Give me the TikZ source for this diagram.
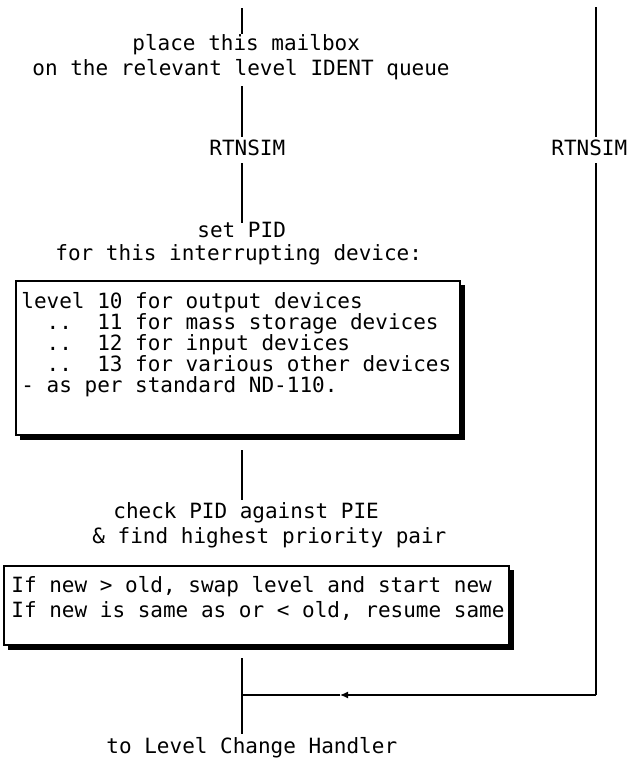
\documentclass[tikz,border=0pt]{standalone}
\usepackage{fontspec}
\setmonofont{DejaVu Sans Mono}
\usetikzlibrary{arrows.meta}
\begin{document}
\begin{tikzpicture}[x=0.5pt,y=-0.5pt,
  lbl/.style={anchor=west,inner sep=0pt,
    font=\ttfamily\fontsize{10.5pt}{11pt}\selectfont,
    text height=7.5pt,text depth=2.5pt},
  wire/.style={line width=0.65pt},
  heavy/.style={line width=1pt},
  frame/.style={draw,line width=0.7pt,fill=white},
  shade/.style={fill=black}]
\useasboundingbox (0,0) rectangle (640,760);

% ---- left column: texts
\node[lbl] (mb1) at (132,45) {place this mailbox};
\node[lbl] (mb2) at (32,70)  {on the relevant level IDENT queue};
\node[lbl] (rtl) at (209,150) {RTNSIM};
\node[lbl] (rtr) at (551,150) {RTNSIM};
\node[lbl] (pid1) at (197,232) {set PID};
\node[lbl] (pid2) at (55,255)  {for this interrupting device:};

% ---- box with the PID levels
\fill[shade] (20,285) rectangle (465,440);
\draw[frame] (16,281) rectangle (460,435);
\node[lbl] (lv1) at (21,303) {level 10 for output devices};
\node[lbl] (lv2) at (21,324) {\ \ ..\ \ 11 for mass storage devices};
\node[lbl] (lv3) at (21,345) {\ \ ..\ \ 12 for input devices};
\node[lbl] (lv4) at (21,366) {\ \ ..\ \ 13 for various other devices};
\node[lbl] (lv5) at (21,387) {- as per standard ND-110.};

\node[lbl] (chk1) at (113,513) {check PID against PIE};
\node[lbl] (chk2) at (92,538)  {\& find highest priority pair};

% ---- box with the swap rule
\fill[shade] (8,570) rectangle (514,650);
\draw[frame] (4,566) rectangle (509,645);
\node[lbl] (sw1) at (11,587) {If new > old, swap level and start new};
\node[lbl] (sw2) at (11,612) {If new is same as or < old, resume same};

\node[lbl] (lch) at (106,748) {to Level Change Handler};

% ---- line end points
\coordinate (l0) at (242,8);
\coordinate (l1) at (242,34);
\coordinate (l2) at (242,86);
\coordinate (l3) at (242,137);
\coordinate (l4) at (242,163);
\coordinate (l5) at (242,223);
\coordinate (l6) at (242,450);
\coordinate (l7) at (242,500);
\coordinate (l8) at (242,658);
\coordinate (jn) at (242,695);
\coordinate (l9) at (242,734);
\coordinate (r0) at (596,7);
\coordinate (r1) at (596,137);
\coordinate (r2) at (596,163);
\coordinate (rb) at (596,695);
\coordinate (tip) at (340,695);

% ---- main flow line
\draw[wire] (l0) -- (l1);
\draw[wire] (l2) -- (l3);
\draw[wire] (l4) -- (l5);
\draw[wire] (l6) -- (l7);
\draw[wire] (l8) -- (l9);

% ---- return path on the right
\draw[heavy] (r0) -- (r1);
\draw[heavy] (r2) -- (rb);
\draw[wire,-{Latex[length=4pt,width=3.5pt]}] (rb) -- (tip);
\draw[wire] (tip) -- (jn);
\end{tikzpicture}
\end{document}
